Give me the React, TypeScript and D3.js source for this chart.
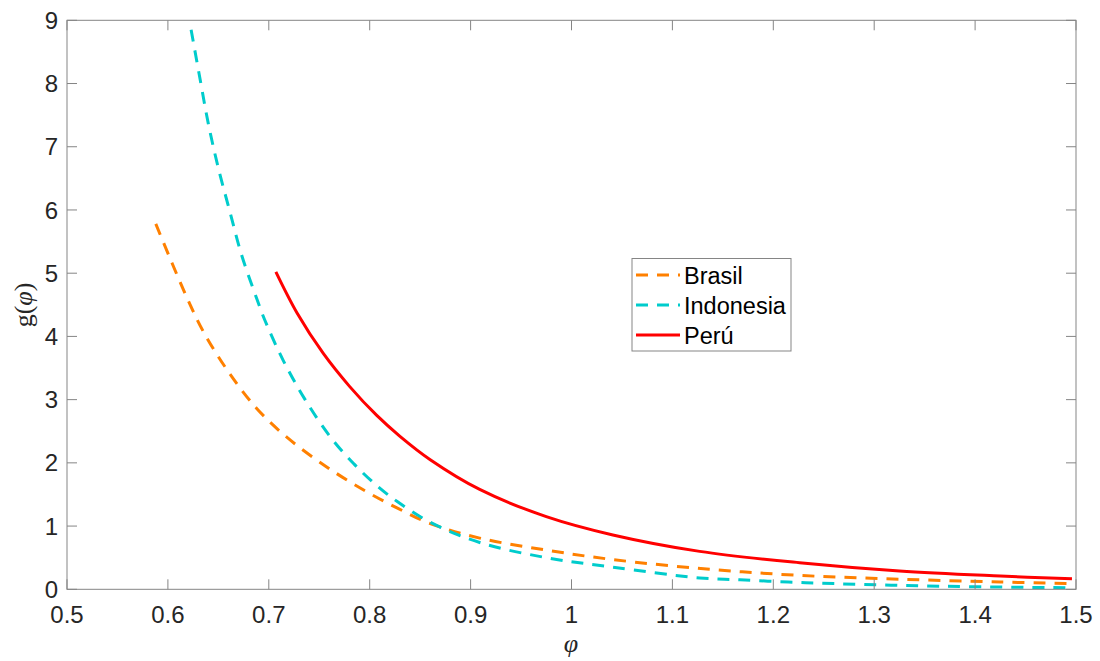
import React from "react";
import * as d3 from "d3";

const xTicks = [0.5, 0.6, 0.7, 0.8, 0.9, 1.0, 1.1, 1.2, 1.3, 1.4, 1.5];
const yTicks = [0, 1, 2, 3, 4, 5, 6, 7, 8, 9];

const brasilPhi = [0.588, 0.617, 0.635, 0.660, 0.688, 0.719, 0.757, 0.794, 0.828, 0.860, 0.909, 0.975, 1.041, 1.134, 1.226, 1.325, 1.425, 1.497];
const brasilG = [5.78, 4.68, 4.08, 3.44, 2.86, 2.39, 1.94, 1.57, 1.28, 1.04, 0.81, 0.62, 0.47, 0.32, 0.22, 0.16, 0.115, 0.09];

const indoPhi = [0.623, 0.632, 0.640, 0.650, 0.6615, 0.673, 0.688, 0.696, 0.714, 0.736, 0.761, 0.784, 0.807, 0.828, 0.860, 0.909, 0.975, 1.041, 1.127, 1.167, 1.215, 1.26, 1.325, 1.4, 1.497];
const indoG = [8.85, 8.06, 7.37, 6.66, 5.97, 5.29, 4.60, 4.26, 3.63, 3.00, 2.41, 1.99, 1.64, 1.38, 1.06, 0.74, 0.50, 0.35, 0.18, 0.15, 0.115, 0.09, 0.063, 0.04, 0.025];

const peruPhi = [0.707, 0.728, 0.754, 0.780, 0.807, 0.830, 0.860, 0.909, 0.975, 1.041, 1.127, 1.226, 1.325, 1.425, 1.496];
const peruG = [5.02, 4.37, 3.73, 3.21, 2.75, 2.42, 2.05, 1.58, 1.15, 0.86, 0.60, 0.42, 0.29, 0.21, 0.165];

const seriesNames = ["Brasil", "Indonesia", "Perú"];

const W = 1100;
const H = 661;
const L = 67;
const R = 1076;
const T = 20.3;
const B = 589.3;

const axisColor = "#858585";
const textColor = "#262626";

export default function App() {
  const x = d3.scaleLinear().domain([0.5, 1.5]).range([L, R]);
  const y = d3.scaleLinear().domain([0, 9]).range([B, T]);
  const line = d3
    .line<[number, number]>()
    .x((d) => x(d[0]))
    .y((d) => y(d[1]))
    .curve(d3.curveCatmullRom.alpha(0.5));

  const series = [
    { name: seriesNames[0], phi: brasilPhi, g: brasilG, color: "#FF8000", dash: "12 9" },
    { name: seriesNames[1], phi: indoPhi, g: indoG, color: "#00CCCC", dash: "12 9" },
    { name: seriesNames[2], phi: peruPhi, g: peruG, color: "#FF0000", dash: null },
  ];

  const fmt = (v: number) => (Math.abs(v - 1) < 1e-9 ? "1" : String(+v.toFixed(1)));

  const legX = 632;
  const legY = 258.5;
  const legW = 159;
  const legH = 92.5;
  const rowY = [275, 305, 335];

  return (
    <svg
      width={W}
      height={H}
      style={{ position: "absolute", left: 0, top: 0, background: "#fff" }}
      fontFamily="Liberation Sans, Arial, Helvetica, sans-serif"
    >
      <rect x={0} y={0} width={W} height={H} fill="#fff" />
      <defs>
        <clipPath id="plotclip">
          <rect x={L} y={T} width={R - L} height={B - T} />
        </clipPath>
      </defs>
      <g clipPath="url(#plotclip)">
        {series.map((s) => (
          <path
            key={s.name}
            d={line(s.phi.map((p, i) => [p, s.g[i]] as [number, number])) || ""}
            fill="none"
            stroke={s.color}
            strokeWidth={3}
            strokeDasharray={s.dash || undefined}
          />
        ))}
      </g>
      <rect x={L} y={T} width={R - L} height={B - T} fill="none" stroke={axisColor} strokeWidth={1} />
      {xTicks.map((t) => (
        <g key={"x" + t}>
          <line x1={x(t)} x2={x(t)} y1={B} y2={B - 10} stroke={axisColor} />
          <line x1={x(t)} x2={x(t)} y1={T} y2={T + 10} stroke={axisColor} />
          <text x={x(t)} y={623} textAnchor="middle" fontSize={24} fill={textColor}>
            {fmt(t)}
          </text>
        </g>
      ))}
      {yTicks.map((t) => (
        <g key={"y" + t}>
          <line x1={L} x2={L + 10} y1={y(t)} y2={y(t)} stroke={axisColor} />
          <line x1={R} x2={R - 10} y1={y(t)} y2={y(t)} stroke={axisColor} />
          <text x={58} y={y(t) + 8.6} textAnchor="end" fontSize={24} fill={textColor}>
            {t}
          </text>
        </g>
      ))}
      <text
        x={571}
        y={652}
        textAnchor="middle"
        fontSize={26}
        fontStyle="italic"
        fontFamily="Liberation Serif, Times New Roman, serif"
        fill={textColor}
      >
        φ
      </text>
      <text
        transform={`translate(32, 305) rotate(-90)`}
        textAnchor="middle"
        fontSize={26}
        fontFamily="Liberation Serif, Times New Roman, serif"
        fill={textColor}
      >
        g(<tspan fontStyle="italic">φ</tspan>)
      </text>
      <rect x={legX} y={legY} width={legW} height={legH} fill="#fff" stroke={axisColor} strokeWidth={1} />
      {series.map((s, i) => (
        <g key={"leg" + s.name}>
          <line
            x1={636}
            x2={680}
            y1={rowY[i]}
            y2={rowY[i]}
            stroke={s.color}
            strokeWidth={3}
            strokeDasharray={s.dash || undefined}
          />
          <text x={684} y={rowY[i] + 9} fontSize={23.5} fill="#000">
            {s.name}
          </text>
        </g>
      ))}
    </svg>
  );
}
